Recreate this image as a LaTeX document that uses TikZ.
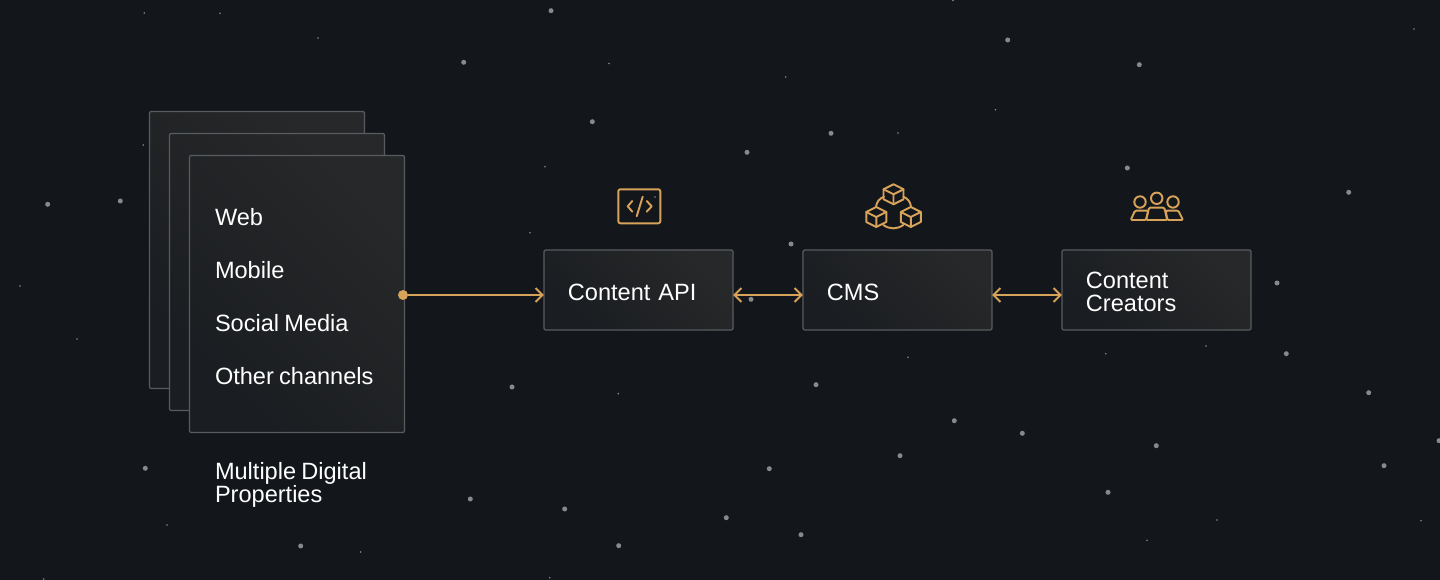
\documentclass[tikz,border=0pt]{standalone}
\usepackage{fontspec}
\setmainfont[WordSpace=0.8]{Liberation Sans}
\usetikzlibrary{arrows.meta}
\definecolor{nightbg}{HTML}{13161B}
\definecolor{cardlight}{HTML}{272829}
\definecolor{carddark}{HTML}{1A1D21}
\definecolor{cardline}{HTML}{595C5F}
\definecolor{amber}{HTML}{D7A25A}
\definecolor{stardot}{HTML}{87898C}
\tikzset{card/.style={draw=cardline,line width=0.35pt,rounded corners=0.02cm,bottom color=carddark,top color=cardlight,shading angle=-45,inner sep=0pt,outer sep=0pt}}
\tikzset{box/.style={card,minimum width=1.89cm,minimum height=0.8cm,inner xsep=0.24cm,text width=1.41cm,text height=0.205cm,align=left,font=\sitelabel,text=white}}
\tikzset{label/.style={anchor=west,inner sep=0pt,outer sep=0pt,align=left,font=\sitelabel,text=white}}
\tikzset{barb/.tip={Straight Barb[length=0.07cm,width=0.14cm,line width=0.55pt]}}
\tikzset{link/.style={amber,line width=0.55pt}}
\tikzset{icon/.style={amber,line width=0.55pt,line cap=round,line join=round}}
\tikzset{cube/.pic={
	\draw[icon] (0,-10) -- (10,-5) -- (10,5) -- (0,10) -- (-10,5) -- (-10,-5) -- cycle;
	\draw[icon] (-10,-5) -- (0,0) -- (10,-5) (0,0) -- (0,10);
}}
\newcommand{\sitelabel}{\fontsize{6.7pt}{6.55pt}\selectfont}

\begin{document}
\begin{tikzpicture}[x=0.01cm,y=-0.01cm]
	\useasboundingbox[fill=nightbg] (0,0) rectangle (1440,580);
	% small stars
	\foreach \px/\py in {144.3/13,220/13.3,318/38,143.3/145,20/286,609/63.5,785.7/77,898/133,545/166.7,530/232.7,953/0.5,655/197,1414/29,995.5/109.7,77/339,167/525,360.5/552,43.7/579,908/357.3,618.3/393.7,549.7/577.7,1105.7/353.7,1206/346,1217/520,1147/540.3,1421/520.7}
		\fill[stardot] (\px,\py) circle (0.009cm);
	\foreach \px/\py in {463.7/62.3,47.7/204.3,120.3/201,551/10.7,592.3/121.7,747/152.3,831/133.3,791/244,1007.7/40,1139.3/64.7,1127.3/168,1348.7/192.3,1277/283,145.3/468.3,300.7/546,470.3/499,751/299.3,512/387,816/384.7,954.3/420.7,900/455.7,769.3/468.7,564.7/509,726.3/517.7,801/534.7,618.7/545.7,1286.3/353.7,1368.7/392.7,1022.3/433.3,1156.3/445.7,1384/465.7,1108/492.3,1439/440.7}
		\fill[stardot] (\px,\py) circle (0.025cm);
	\node[card,minimum width=2.15cm,minimum height=2.77cm] (back) at (257,250) {};
	\node[card,minimum width=2.15cm,minimum height=2.77cm] (middle) at (277,272) {};
	\node[card,minimum width=2.15cm,minimum height=2.77cm] (front) at (297,294) {};
	\node[label] (web) at (215,217) {Web};
	\node[label] (mobile) at (215,270) {Mobile};
	\node[label] (social) at (215,323) {Social Media};
	\node[label] (other) at (215,376) {Other channels};
	\node[label] (caption) at (215,485) {Multiple Digital\\Properties};
	\node[box] (api) at (638.5,290) {Content API};
	\node[box] (cms) at (897.5,290) {CMS};
	\node[box] (creators) at (1156.5,290) {Content\\Creators};
	\node[circle,fill=amber,minimum size=0.1cm,inner sep=0pt,outer sep=0pt] (dot) at (403,295) {};
	\draw[link,-barb] (dot) -- (dot -| api.west);
	\draw[link,barb-barb] (api.east |- dot) -- (cms.west |- dot);
	\draw[link,barb-barb] (cms.east |- dot) -- (creators.west |- dot);
	% code
	\draw[icon,rounded corners=0.02cm] (618.3,189.3) rectangle (660.3,223.3);
	\draw[icon] (632.3,201) -- (627.7,206.3) -- (632.3,211.7);
	\draw[icon] (646.7,201) -- (651.7,206.3) -- (646.7,211.7);
	\draw[icon] (642.7,196.7) -- (636.7,216.3);
	% blocks
	\pic at (893.5,194.3) {cube};
	\pic at (876.3,217) {cube};
	\pic at (910.8,217) {cube};
	\draw[icon] (876,206.7) to[bend left=30] (884,196.7);
	\draw[icon] (903.3,196.7) to[bend left=30] (911,206.7);
	\draw[icon] (883.3,225) to[bend right=35] (903.3,225);
	% people
	\foreach \px/\py in {1140/202,1156.7/198.3,1173/202}
		\draw[icon] (\px,\py) circle (0.057cm);
	\draw[icon,rounded corners=0.012cm] (1149,207.7) -- (1164.3,207.7) -- (1167.3,220) -- (1146,220) -- cycle;
	\draw[icon,rounded corners=0.012cm] (1135,210.7) -- (1148.3,210.7) -- (1146,220) -- (1130.7,220) -- cycle;
	\draw[icon,rounded corners=0.012cm] (1165.7,210.7) -- (1178.3,210.7) -- (1183,220) -- (1167.3,220) -- cycle;
\end{tikzpicture}
\end{document}
